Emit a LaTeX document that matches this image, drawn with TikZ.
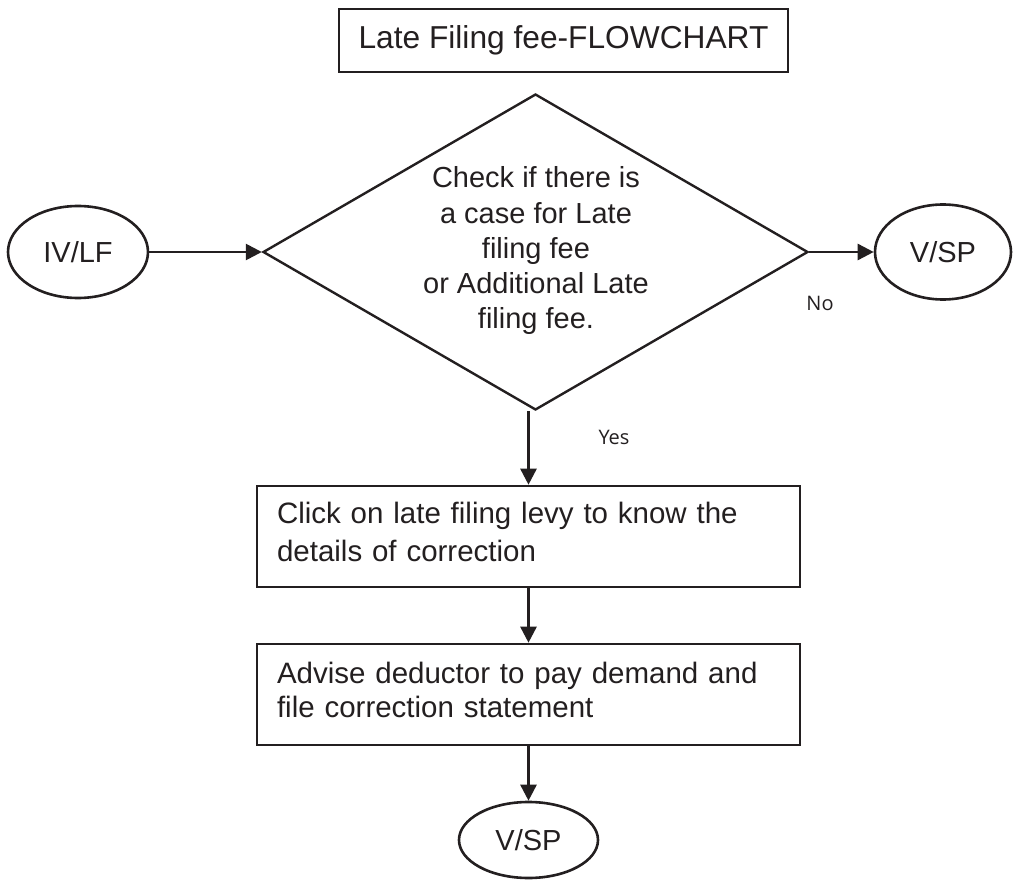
\documentclass[tikz,border=0pt]{standalone}
\usepackage{fontspec}
\setmainfont{Liberation Sans}
\newfontfamily\lblfont{Open Sans}
\usetikzlibrary{shapes.geometric,arrows.meta}
\definecolor{ink}{HTML}{231F20}
\begin{document}
\begin{tikzpicture}[x=1pt,y=-1pt,
  every node/.style={text=ink},
  titlebox/.style={draw=ink, line width=2.6pt, rectangle, inner sep=0pt,
    minimum width=449pt, minimum height=63pt, font=\fontsize{31.7}{38}\selectfont},
  decision/.style={draw=ink, line width=2.4pt, diamond, inner sep=0pt,
    minimum width=545pt, minimum height=316pt},
  dtext/.style={align=center, inner sep=0pt, font=\fontsize{29}{35.25}\selectfont},
  term/.style={draw=ink, line width=2.6pt, ellipse, inner sep=0pt,
    font=\fontsize{29}{35}\selectfont},
  process/.style={draw=ink, line width=2.6pt, rectangle, text width=503pt,
    inner xsep=20pt, inner ysep=0pt, align=left, minimum height=101pt},
  lbl/.style={inner sep=0pt, font=\lblfont\fontsize{20}{24}\selectfont},
  arr/.style={draw=ink, line width=2.6pt, -{Triangle[length=16pt,width=16pt]}}
]
\path[use as bounding box] (0,0) rectangle (1013,880);

\node[titlebox] (title) at (563.5,40.5) {Late Filing fee-FLOWCHART};

\node[decision] (dia) at (535.5,252) {};
\node[dtext] (qtext) at (536,251) {Check if there is\\a case for Late\\filing fee\\or Additional Late\\filing fee.};

\node[term, minimum width=140pt, minimum height=92pt] (ivlf) at (78,252) {IV/LF};
\node[term, minimum width=136pt, minimum height=95pt] (vsp1) at (943,252) {V/SP};

\node[process, font=\fontsize{29.5}{38}\selectfont] (box1) at (528.5,536.5)
  {Click on late filing levy to know the\\details of correction\rule[-10pt]{0pt}{0pt}};
\node[process, font=\fontsize{29.5}{34}\selectfont] (box2) at (528.5,694.5)
  {Advise deductor to pay demand and\\file correction statement\rule[-10pt]{0pt}{0pt}};

\node[term, minimum width=139pt, minimum height=76pt] (vsp2) at (528.5,840) {V/SP};

\node[lbl] (no) at (820,303) {No};
\node[lbl] (yes) at (614,437) {Yes};

\draw[arr] (ivlf.east) -- (dia.west);
\draw[arr] (dia.east) -- (vsp1.west);
\draw[arr] (box1.north |- dia.south) -- (box1.north);
\draw[arr] (box1.south) -- (box2.north);
\draw[arr] (box2.south) -- (vsp2.north);
\end{tikzpicture}
\end{document}
